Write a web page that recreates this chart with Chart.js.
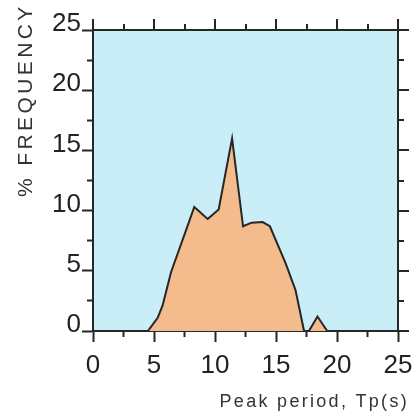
<!DOCTYPE html>
<html>
<head>
<meta charset="utf-8">
<script src="https://cdn.jsdelivr.net/npm/chart.js@4.4.1/dist/chart.umd.min.js"></script>
<style>
  html, body { margin: 0; padding: 0; background: #ffffff; }
  canvas { display: block; }
</style>
</head>
<body>
<canvas id="chart" width="412" height="414"></canvas>
<script>
// Peak wave period (s) and share of records (%)
const periods   = [4.5, 5.3, 5.7, 6.4, 7.6, 8.3, 9.4, 10.3, 11.4, 12.3, 13.0, 13.9, 14.5, 15.8, 16.6, 17.3, 17.7, 18.4, 19.2];
const frequency = [0,   1.1, 2.1, 4.9, 8.3, 10.3, 9.3, 10.1, 16.0, 8.7,  9.0,  9.05, 8.7,  5.6,  3.4,  0,    0,    1.2,  0];

// Axis ranges and tick positions (labels on every major step)
const axisMin = 0;
const axisMax = 25;
const majorStep = 5;
const minorStep = 2.5;
const tickValues = [0, 2.5, 5, 7.5, 10, 12.5, 15, 17.5, 20, 22.5, 25];

const xTitle = 'Peak period, Tp(s)';
const yTitle = '% FREQUENCY';

const INK = '#262626';
const FONT = '"Liberation Sans", Arial, Helvetica, sans-serif';
const TICK_LEN = 11;
const MINOR_LEN = 5;

const isMajorValue = (v) => Math.abs(v % majorStep) < 1e-6;
const isMinor = (c) => c.tick && !isMajorValue(c.tick.value);
// bottom tick marks start at the axis line, left ones start at the outer end
const dashFromAxis = (c) => isMinor(c) ? [MINOR_LEN, 60] : [];
const dashToAxis = (c) => isMinor(c) ? [0, TICK_LEN - 1 - MINOR_LEN, MINOR_LEN, 60] : [];
const majorLabel = (v) => (isMajorValue(v) ? String(v) : '');
const noLabel = () => '';

function gridFor(dashFn) {
  return {
    drawOnChartArea: false,
    drawTicks: true,
    tickLength: TICK_LEN,
    tickWidth: 2,
    tickColor: INK,
    tickBorderDash: dashFn
  };
}
const plainGrid = () => ({ drawOnChartArea: false, drawTicks: false });
const frame = () => ({ display: true, color: INK, width: 2 });

// fixed box sizes keep the plot frame in place
const fixedHeight = (h) => (s) => { s.height = h; s.paddingLeft = 0; s.paddingRight = 0; };
const fixedWidth = (w) => (s) => { s.width = w; s.paddingTop = 0; s.paddingBottom = 0; };

const plotBackground = {
  id: 'plotBackground',
  beforeDraw(chart) {
    const { ctx, chartArea: a } = chart;
    ctx.save();
    ctx.fillStyle = '#c9eef8';
    ctx.fillRect(a.left, a.top, a.right - a.left, a.bottom - a.top);
    ctx.restore();
  }
};

// outward tick marks along the top and right frame, placed by the x / y scales
const mirrorTicks = {
  id: 'mirrorTicks',
  afterDraw(chart) {
    const { ctx, chartArea: a } = chart;
    const xs = chart.scales.x;
    const ys = chart.scales.y;
    ctx.save();
    ctx.strokeStyle = INK;
    ctx.lineWidth = 2;
    ctx.lineCap = 'butt';
    ctx.beginPath();
    tickValues.forEach((v) => {
      const len = isMajorValue(v) ? TICK_LEN : MINOR_LEN + 1;
      const px = Math.round(xs.getPixelForValue(v));
      ctx.moveTo(px, a.top);
      ctx.lineTo(px, a.top - len);
      const py = Math.round(ys.getPixelForValue(v));
      ctx.moveTo(a.right, py);
      ctx.lineTo(a.right + len, py);
    });
    ctx.stroke();
    ctx.restore();
  }
};

const axisTitles = {
  id: 'axisTitles',
  afterDraw(chart) {
    const ctx = chart.ctx;
    ctx.save();
    ctx.fillStyle = '#333333';
    ctx.textBaseline = 'alphabetic';

    ctx.font = '18px ' + FONT;
    ctx.letterSpacing = '2.3px';
    ctx.textAlign = 'right';
    ctx.fillText(xTitle, 409, 407);

    ctx.font = '21px ' + FONT;
    ctx.letterSpacing = '3.4px';
    ctx.textAlign = 'left';
    ctx.translate(31.5, 197);
    ctx.rotate(-Math.PI / 2);
    ctx.fillText(yTitle, 0, 0);
    ctx.restore();
  }
};

new Chart(document.getElementById('chart'), {
  type: 'line',
  data: {
    datasets: [{
      data: periods.map((p, i) => ({ x: p, y: frequency[i] })),
      borderColor: INK,
      borderWidth: 2,
      backgroundColor: '#f4bb8c',
      fill: 'origin',
      pointRadius: 0,
      tension: 0
    }]
  },
  options: {
    responsive: false,
    animation: false,
    layout: { padding: 0, autoPadding: false },
    plugins: { legend: { display: false }, tooltip: { enabled: false } },
    scales: {
      x: {
        type: 'linear', axis: 'x', position: 'bottom',
        min: axisMin, max: axisMax,
        grid: gridFor(dashFromAxis), border: frame(),
        ticks: {
          stepSize: minorStep, autoSkip: false, maxRotation: 0, padding: 8,
          color: '#222222', font: { family: FONT, size: 26 },
          callback: majorLabel
        },
        afterFit: fixedHeight(83)
      },
      x2: {
        type: 'linear', axis: 'x', position: 'top',
        min: axisMin, max: axisMax,
        grid: plainGrid(), border: frame(),
        ticks: { display: false },
        afterFit: fixedHeight(30)
      },
      y: {
        type: 'linear', axis: 'y', position: 'left',
        min: axisMin, max: axisMax,
        grid: gridFor(dashToAxis), border: frame(),
        ticks: {
          stepSize: minorStep, autoSkip: false, padding: 1, labelOffset: -6,
          color: '#222222', font: { family: FONT, size: 26 },
          callback: majorLabel
        },
        afterFit: fixedWidth(93)
      },
      y2: {
        type: 'linear', axis: 'y', position: 'right',
        min: axisMin, max: axisMax,
        grid: plainGrid(), border: frame(),
        ticks: { display: false },
        afterFit: fixedWidth(14)
      }
    }
  },
  plugins: [plotBackground, mirrorTicks, axisTitles]
});
</script>
</body>
</html>
